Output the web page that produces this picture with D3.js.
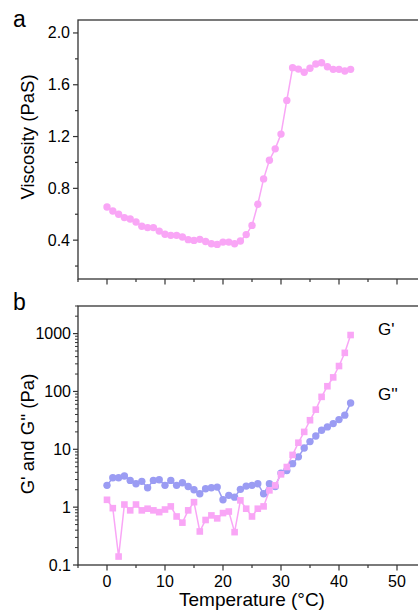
<!DOCTYPE html>
<html>
<head>
<meta charset="utf-8">
<script src="https://cdn.jsdelivr.net/npm/d3@7"></script>
<style>
  body { margin: 0; background: #fff; }
  svg { display: block; font-family: "Liberation Sans", Arial, sans-serif; }
</style>
</head>
<body>
<svg width="418" height="610"></svg>
<script>
// temperature (°C) of each reading
var temps = [0,1,2,3,4,5,6,7,8,9,10,11,12,13,14,15,16,17,18,19,20,
             21,22,23,24,25,26,27,28,29,30,31,32,33,34,35,36,37,38,39,40,41,42];

// panel a: viscosity (PaS)
var viscosity = [0.656,0.625,0.600,0.574,0.563,0.540,0.507,0.497,0.497,0.470,0.445,
                 0.437,0.437,0.424,0.404,0.398,0.406,0.390,0.372,0.367,0.385,
                 0.385,0.372,0.393,0.443,0.514,0.677,0.873,1.017,1.105,1.219,
                 1.479,1.732,1.721,1.696,1.727,1.760,1.770,1.739,1.719,1.719,1.706,1.719];

// panel b: storage modulus G' and loss modulus G'' (Pa)
var gPrime = [1.34,0.96,0.14,1.11,0.88,1.11,0.88,0.94,0.88,0.82,0.91,
              1.03,0.69,0.54,0.88,1.22,0.38,0.60,0.72,0.64,0.79,
              0.84,0.37,1.31,0.94,0.69,0.94,1.03,1.95,2.38,3.69,
              4.94,8.0,13.0,20.0,31.8,48.5,80.6,123,175,275,465,945];
var gDouble = [2.38,3.23,3.23,3.45,2.90,2.54,2.79,2.17,2.90,2.98,2.38,
               2.90,2.38,2.64,2.28,2.00,1.70,2.08,2.17,2.22,1.34,
               1.60,1.49,2.03,2.31,2.38,2.54,1.70,2.54,2.28,3.88,
               4.30,5.65,7.4,10.5,13.6,17.0,21.4,24.4,27.8,32.6,38.9,63];

var xTicks = [0,10,20,30,40,50];
var xMinor = [-5,5,15,25,35,45];
var visTicks = [0.4,0.8,1.2,1.6,2.0];
var visMinor = [0.2,0.6,1.0,1.4,1.8];
var logTicks = [0.1,1,10,100,1000];

var pink = "#f9a6f6", blue = "#9b9cf3", axisCol = "#333";

var svg = d3.select("svg");

var x = d3.scaleLinear().domain([-5, 55]).range([78, 426]);
var yA = d3.scaleLinear().domain([0.1, 2.1]).range([279, 20]);
var yB = d3.scaleLog().domain([0.1, 3000]).range([565, 306]);

function frame(top, bottom, showLabels) {
  svg.append("rect")
    .attr("x", 78).attr("y", top)
    .attr("width", 426 - 78).attr("height", bottom - top)
    .attr("fill", "none").attr("stroke", axisCol).attr("stroke-width", 1.3);

  var gx = svg.append("g").attr("transform", "translate(0," + bottom + ")");
  gx.selectAll("line.maj").data(xTicks).join("line")
    .attr("x1", d => x(d)).attr("x2", d => x(d))
    .attr("y1", 0).attr("y2", 5.5)
    .attr("stroke", axisCol).attr("stroke-width", 1.2);
  gx.selectAll("line.min").data(xMinor).join("line")
    .attr("x1", d => x(d)).attr("x2", d => x(d))
    .attr("y1", 0).attr("y2", 3)
    .attr("stroke", axisCol).attr("stroke-width", 1.2);
  if (showLabels) {
    gx.selectAll("text").data(xTicks).join("text")
      .attr("x", d => x(d)).attr("y", 21.5)
      .attr("text-anchor", "middle")
      .attr("font-size", 16)
      .text(d => d);
  }
}

// ---------- panel a ----------
frame(20, 279, false);

var ga = svg.append("g");
ga.selectAll("line.maj").data(visTicks).join("line")
  .attr("x1", 73).attr("x2", 78)
  .attr("y1", d => yA(d)).attr("y2", d => yA(d))
  .attr("stroke", axisCol).attr("stroke-width", 1.2);
ga.selectAll("line.min").data(visMinor).join("line")
  .attr("x1", 75).attr("x2", 78)
  .attr("y1", d => yA(d)).attr("y2", d => yA(d))
  .attr("stroke", axisCol).attr("stroke-width", 1.2);
ga.selectAll("text").data(visTicks).join("text")
  .attr("x", 70).attr("y", d => yA(d) + 5.5)
  .attr("text-anchor", "end")
  .attr("font-size", 16)
  .text(d => d.toFixed(1));

var lineA = d3.line().x((d, i) => x(temps[i])).y(d => yA(d));
svg.append("path").datum(viscosity)
  .attr("d", lineA).attr("fill", "none")
  .attr("stroke", pink).attr("stroke-width", 1.5);
svg.append("g").selectAll("circle").data(viscosity).join("circle")
  .attr("cx", (d, i) => x(temps[i])).attr("cy", d => yA(d))
  .attr("r", 3.7).attr("fill", pink);

svg.append("text").attr("x", 13).attr("y", 27)
  .attr("font-size", 23).text("a");
svg.append("text")
  .attr("transform", "translate(34,137) rotate(-90)")
  .attr("text-anchor", "middle").attr("font-size", 18.5)
  .text("Viscosity (PaS)");

// ---------- panel b ----------
frame(306, 565, true);

var minorLog = [];
[0.1, 1, 10, 100, 1000].forEach(function (dec) {
  [2,3,4,5,6,7,8,9].forEach(function (m) {
    if (dec * m <= 3000) minorLog.push(dec * m);
  });
});

var gb = svg.append("g");
gb.selectAll("line.maj").data(logTicks).join("line")
  .attr("x1", 73).attr("x2", 78)
  .attr("y1", d => yB(d)).attr("y2", d => yB(d))
  .attr("stroke", axisCol).attr("stroke-width", 1.2);
gb.selectAll("line.min").data(minorLog).join("line")
  .attr("x1", 75).attr("x2", 78)
  .attr("y1", d => yB(d)).attr("y2", d => yB(d))
  .attr("stroke", axisCol).attr("stroke-width", 1);
gb.selectAll("text").data(logTicks).join("text")
  .attr("x", 71).attr("y", d => yB(d) + 5.5)
  .attr("text-anchor", "end")
  .attr("font-size", 16)
  .text(d => d);

var lineB = d3.line().x((d, i) => x(temps[i])).y(d => yB(d));
svg.append("path").datum(gDouble)
  .attr("d", lineB).attr("fill", "none")
  .attr("stroke", blue).attr("stroke-width", 1.5);
svg.append("path").datum(gPrime)
  .attr("d", lineB).attr("fill", "none")
  .attr("stroke", pink).attr("stroke-width", 1.5);
svg.append("g").selectAll("circle").data(gDouble).join("circle")
  .attr("cx", (d, i) => x(temps[i])).attr("cy", d => yB(d))
  .attr("r", 3.7).attr("fill", blue);
svg.append("g").selectAll("rect").data(gPrime).join("rect")
  .attr("x", (d, i) => x(temps[i]) - 3.3).attr("y", d => yB(d) - 3.3)
  .attr("width", 6.6).attr("height", 6.6).attr("fill", pink);

svg.append("text").attr("x", 378).attr("y", 335)
  .attr("font-size", 17).text("G'");
svg.append("text").attr("x", 378).attr("y", 400)
  .attr("font-size", 17).text("G''");

svg.append("text").attr("x", 13).attr("y", 310)
  .attr("font-size", 23).text("b");
svg.append("text")
  .attr("transform", "translate(34,434) rotate(-90)")
  .attr("text-anchor", "middle").attr("font-size", 18.5)
  .text("G' and G'' (Pa)");
svg.append("text").attr("x", 252).attr("y", 606)
  .attr("text-anchor", "middle").attr("font-size", 19)
  .text("Temperature (°C)");
</script>
</body>
</html>
